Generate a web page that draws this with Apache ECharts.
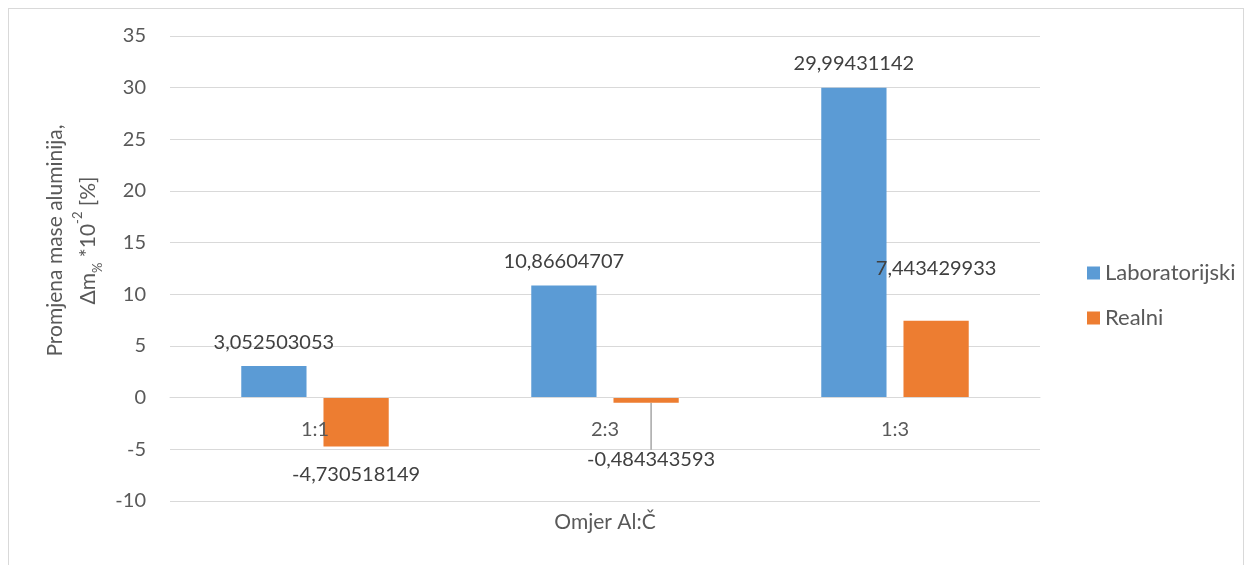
<!DOCTYPE html>
<html>
<head>
<meta charset="utf-8">
<script src="https://cdn.jsdelivr.net/npm/echarts@6/dist/echarts.min.js"></script>
<style>
  html, body { margin: 0; padding: 0; background: #fff; }
  .frame {
    position: absolute; left: 8px; top: 8px; width: 1236px; height: 600px;
    border: 1px solid #d9d9d9; box-sizing: border-box;
  }
  #chart { position: absolute; left: 0; top: 0; width: 1252px; height: 565px; }
</style>
</head>
<body>
<div class="frame"></div>
<div id="chart"></div>
<script>
// podaci
const categories = ['1:1', '2:3', '1:3']
const laboratorijski = [3.052503053, 10.86604707, 29.99431142]
const realni = [-4.730518149, -0.484343593, 7.443429933]
const yTicks = { min: -10, max: 35, interval: 5 }

const FONT = 'Lato, "Open Sans", sans-serif'
const fmt = (v) => String(v).replace('.', ',')

const GRID = { left: 170, right: 212, top: 36, bottom: 64 }
// kategorijska os stoji na nuli (kao u Excelu)
const plotH = 565 - GRID.top - GRID.bottom
const zeroOffset = -plotH * (0 - yTicks.min) / (yTicks.max - yTicks.min)

const chart = echarts.init(document.getElementById('chart'))

function labelFor(v, idx, series) {
  // Excel labels: outside end
  const lbl = { position: v < 0 ? 'bottom' : 'top', distance: v < 0 ? 18 : 14 }
  if (series === 'r' && idx === 2) lbl.distance = 42
  return lbl
}

const option = {
  animation: false,
  textStyle: { fontFamily: FONT },
  grid: { ...GRID, outerBoundsMode: 'none', containLabel: false },
  legend: {
    orient: 'vertical',
    left: 1082,
    top: 257,
    itemWidth: 13,
    itemHeight: 13,
    itemGap: 23,
    icon: 'rect',
    textStyle: { color: '#595959', fontSize: 22, fontFamily: FONT },
    data: ['Laboratorijski', 'Realni'],
  },
  xAxis: {
    type: 'category',
    data: categories,
    offset: zeroOffset,
    z: 5,
    axisTick: { show: false },
    axisLine: { onZero: false, lineStyle: { color: '#d9d9d9' } },
    axisLabel: { color: '#595959', fontSize: 20, margin: 22, fontFamily: FONT },
    name: 'Omjer Al:Č',
    nameLocation: 'middle',
    nameGap: 114,
    nameTextStyle: { color: '#595959', fontSize: 21, fontFamily: FONT },
  },
  yAxis: {
    type: 'value',
    min: yTicks.min,
    max: yTicks.max,
    interval: yTicks.interval,
    axisLine: { show: false },
    axisTick: { show: false },
    splitLine: { lineStyle: { color: '#d9d9d9' } },
    axisLabel: { color: '#595959', fontSize: 20, margin: 24, fontFamily: FONT },
    name: '{a|Promjena mase aluminija,}\n{a|Δm}{sub|%}{a| *10}{sup|-2}{a| [%]}',
    nameLocation: 'middle',
    nameGap: 56,
    nameRotate: 90,
    nameTextStyle: {
      color: '#595959',
      padding: [0, 0, 0, 56],
      rich: {
        a: { fontSize: 21, fontFamily: FONT, color: '#595959', lineHeight: 33 },
        sub: { fontSize: 13, fontFamily: FONT, color: '#595959', verticalAlign: 'bottom', lineHeight: 33 },
        sup: { fontSize: 13, fontFamily: FONT, color: '#595959', verticalAlign: 'top', lineHeight: 33 },
      },
    },
  },
  series: [
    {
      name: 'Laboratorijski',
      type: 'bar',
      barWidth: '22.5%',
      barGap: '26%',
      itemStyle: { color: '#5b9bd5' },
      data: laboratorijski.map((v, i) => ({ value: v, label: labelFor(v, i, 'l') })),
      label: {
        show: true,
        color: '#404040',
        fontSize: 20,
        fontFamily: FONT,
        formatter: (p) => fmt(p.value),
      },
    },
    {
      name: 'Realni',
      type: 'bar',
      barWidth: '22.5%',
      itemStyle: { color: '#ed7d31' },
      data: realni.map((v, i) => ({
        value: v,
        label: labelFor(v, i, 'r'),
        labelLine: { show: i === 1 },
      })),
      label: {
        show: true,
        color: '#404040',
        fontSize: 20,
        fontFamily: FONT,
        formatter: (p) => fmt(p.value),
      },
      labelLine: { lineStyle: { color: '#a6a6a6', width: 1.5 } },
      labelLayout: (p) => (p.dataIndex === 1 ? { dx: 5, dy: 29 } : {}),
    },
  ],
}

chart.setOption(option)
</script>
</body>
</html>
